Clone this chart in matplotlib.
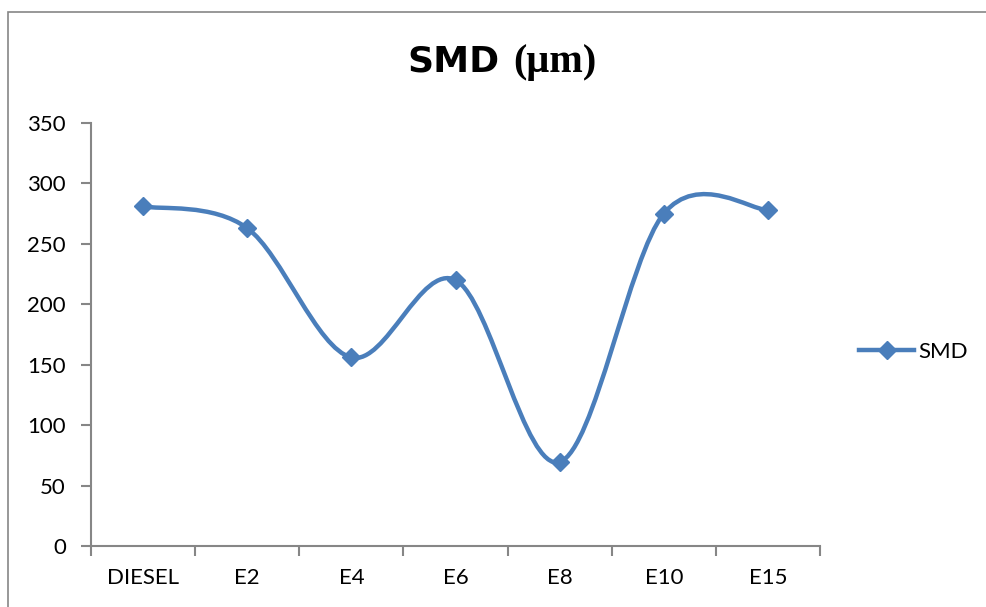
import numpy as np
import matplotlib.pyplot as plt
from matplotlib.path import Path
from matplotlib.patches import PathPatch, Rectangle
from matplotlib.lines import Line2D

categories = ["DIESEL", "E2", "E4", "E6", "E8", "E10", "E15"]
smd = [281, 263, 156, 220, 69.5, 275, 278]
yticks = [0, 50, 100, 150, 200, 250, 300, 350]

blue = "#4A7EBB"
grey = "#868686"
plt.rcParams["font.family"] = ["Lato", "DejaVu Sans"]


def smooth_path(xs, ys):
    # cubic bezier through the points, catmull-rom style control points
    pts = np.column_stack([xs, ys])
    verts = [pts[0]]
    codes = [Path.MOVETO]
    n = len(pts)
    for i in range(n - 1):
        p0 = pts[max(i - 1, 0)]
        p1 = pts[i]
        p2 = pts[i + 1]
        p3 = pts[min(i + 2, n - 1)]
        c1 = p1 + (p2 - p0) / 6
        c2 = p2 - (p3 - p1) / 6
        verts += [c1, c2, p2]
        codes += [Path.CURVE4] * 3
    return Path(verts, codes)


fig = plt.figure(figsize=(9.87, 6.07), dpi=100)
ax = fig.add_axes([0.0922, 0.1005, 0.7386, 0.6969])

x = np.arange(len(categories)) + 0.5
ax.add_patch(PathPatch(smooth_path(x, smd), fill=False, edgecolor=blue,
                       lw=3.2, capstyle="round", zorder=2))
ax.plot(x, smd, ls="none", marker="D", ms=9, color=blue, zorder=3)

ax.set_xlim(0, len(categories))
ax.set_ylim(0, 350)
ax.set_yticks(yticks)
ax.set_xticks(np.arange(len(categories) + 1))
ax.set_xticklabels([])
ax.set_xticks(x, minor=True)
ax.set_xticklabels(categories, minor=True)
ax.tick_params(axis="x", which="minor", length=0, pad=16, labelsize=16)
ax.tick_params(axis="x", which="major", length=7, width=1.5, color=grey)
ax.tick_params(axis="y", length=7, width=1.5, color=grey, pad=11, labelsize=16)

for side in ["top", "right"]:
    ax.spines[side].set_visible(False)
for side in ["left", "bottom"]:
    ax.spines[side].set_color(grey)
    ax.spines[side].set_linewidth(1.5)

# title: sans part plus serif unit
title_y = 1 - 72 / 607
fig.text(500 / 987, title_y, "SMD", ha="right", va="baseline", fontsize=26,
         fontweight="bold", family="DejaVu Sans")
fig.text(513 / 987, title_y, "(μm)", ha="left", va="baseline", fontsize=29,
         fontweight="bold", family="Liberation Serif")

handle = Line2D([], [], color=blue, lw=3.2, marker="D", ms=9)
fig.legend([handle], ["SMD"], loc="center left", bbox_to_anchor=(0.859, 0.42),
           frameon=False, fontsize=16, borderpad=0, handlelength=2.5,
           handletextpad=0.15)

# chart area border
fig.add_artist(Rectangle((8 / 987, -0.1), 1.2, 1 - 12 / 607 + 0.1,
                         transform=fig.transFigure, fill=False,
                         edgecolor=grey, lw=1.2))

fig.savefig("out.png", dpi=100)
